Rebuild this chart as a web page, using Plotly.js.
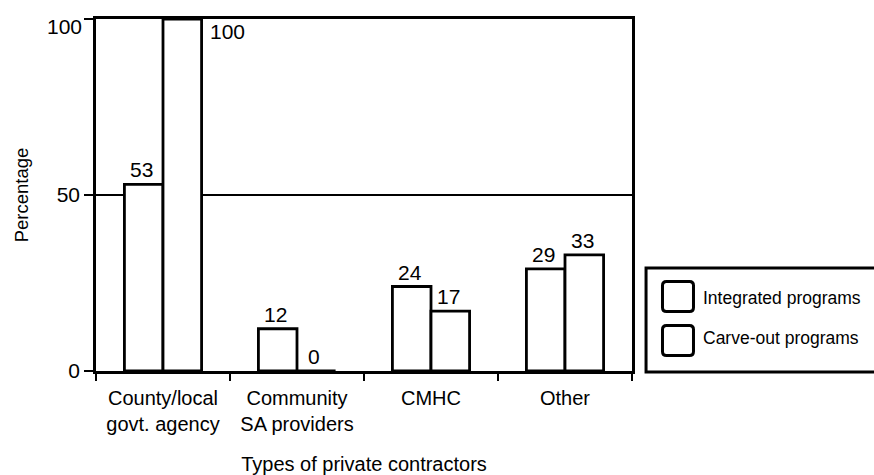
<!DOCTYPE html>
<html>
<head>
<meta charset="utf-8">
<script src="https://cdn.plot.ly/plotly-3.0.1.min.js"></script>
<style>html,body{margin:0;padding:0;background:#fff;}#chart{width:874px;height:475px;}</style>
</head>
<body>
<div id="chart"></div>
<script>
// ---- data ----
var categories = ["County/local<br>govt. agency", "Community<br>SA providers", "CMHC", "Other"];
var seriesNames = ["Integrated programs", "Carve-out programs"];
var integrated = [53, 12, 24, 29];
var carveOut = [100, 0, 17, 33];
var yTickVals = [0, 50, 100];
var yTickText = ["0", "50", "100"];

var FONT = '"Liberation Sans", Arial, Helvetica, sans-serif';
var series = [integrated, carveOut];

var traces = series.map(function (vals, i) {
  return {
    type: 'bar',
    name: seriesNames[i],
    x: categories,
    y: vals,
    marker: {color: '#ffffff', line: {color: '#000000', width: 2.8}},
    showlegend: false,
    hoverinfo: 'x+y+name'
  };
});

// data labels
var annotations = [];
var halfBar = 19.3;
series.forEach(function (vals, i) {
  vals.forEach(function (v, j) {
    var off = (i === 0 ? -halfBar : halfBar);
    if (v >= 95) {
      annotations.push({
        x: categories[j], y: v, xref: 'x', yref: 'y',
        text: String(v), showarrow: false,
        xanchor: 'left', yanchor: 'top',
        xshift: off + halfBar + 6, yshift: 1,
        font: {family: FONT, size: 21, color: '#000'}
      });
    } else {
      annotations.push({
        x: categories[j], y: v, xref: 'x', yref: 'y',
        text: String(v), showarrow: false,
        xanchor: 'center', yanchor: 'bottom',
        xshift: off - 2, yshift: 1,
        font: {family: FONT, size: 21, color: '#000'}
      });
    }
  });
});

// top y tick label sits a little below its tick (drawn from the tick arrays)
var yTickTextShown = yTickText.map(function (t, k) { return k === yTickText.length - 1 ? '' : t; });
annotations.push({
  xref: 'paper', yref: 'y', x: 0, y: yTickVals[yTickVals.length - 1],
  text: yTickText[yTickText.length - 1], showarrow: false,
  xanchor: 'right', yanchor: 'middle', xshift: -12, yshift: -7,
  font: {family: FONT, size: 21, color: '#000'}
});

// legend (drawn)
var legendTextY = [0.2074, 0.0938];
var legendBoxY = [[0.1676, 0.2557], [0.0455, 0.1278]];
var shapes = [{
  type: 'rect', xref: 'paper', yref: 'paper',
  x0: 1.0262, x1: 1.47, y0: -0.003, y1: 0.2926,
  line: {color: '#000', width: 3}, fillcolor: '#fff', layer: 'above'
}];
seriesNames.forEach(function (nm, i) {
  var yc = (legendBoxY[i][0] + legendBoxY[i][1]) / 2;
  var w = 31, h = 30, r = 4;
  shapes.push({
    type: 'path', xref: 'paper', yref: 'paper',
    xsizemode: 'pixel', ysizemode: 'pixel',
    xanchor: 1.0858, yanchor: yc,
    path: 'M ' + (-w/2 + r) + ',' + (-h/2) + ' H ' + (w/2 - r) + ' Q ' + (w/2) + ',' + (-h/2) + ' ' + (w/2) + ',' + (-h/2 + r) +
          ' V ' + (h/2 - r) + ' Q ' + (w/2) + ',' + (h/2) + ' ' + (w/2 - r) + ',' + (h/2) +
          ' H ' + (-w/2 + r) + ' Q ' + (-w/2) + ',' + (h/2) + ' ' + (-w/2) + ',' + (h/2 - r) +
          ' V ' + (-h/2 + r) + ' Q ' + (-w/2) + ',' + (-h/2) + ' ' + (-w/2 + r) + ',' + (-h/2) + ' Z',
    line: {color: '#000', width: 3}, fillcolor: '#fff', layer: 'above'
  });
  annotations.push({
    xref: 'paper', yref: 'paper', x: 1.1287, y: legendTextY[i],
    xanchor: 'left', yanchor: 'middle', showarrow: false,
    text: nm, font: {family: FONT, size: 17.5, color: '#000'}
  });
});

var layout = {
  width: 874, height: 475,
  margin: {l: 96, r: 242, t: 19, b: 104},
  paper_bgcolor: '#fff', plot_bgcolor: '#fff',
  font: {family: FONT, color: '#000', size: 20},
  barmode: 'group', bargap: 0.424, bargroupgap: 0,
  showlegend: false,
  xaxis: {
    type: 'category',
    tickson: 'boundaries',
    ticks: 'outside', ticklen: 7, tickwidth: 2.8, tickcolor: '#000',
    ticklabelstandoff: 7,
    showline: true, linecolor: '#000', linewidth: 2.8, mirror: true,
    showgrid: false,
    tickfont: {family: FONT, size: 20, color: '#000'},
    title: {text: 'Types of private contractors', font: {family: FONT, size: 20, color: '#000'}, standoff: 25},
    automargin: false
  },
  yaxis: {
    range: [0, 100],
    tickvals: yTickVals, ticktext: yTickTextShown,
    ticks: 'outside', ticklen: 9, tickwidth: 2.8, tickcolor: '#000',
    showline: true, linecolor: '#000', linewidth: 2.8, mirror: true,
    showgrid: true, gridcolor: '#000', gridwidth: 2.8,
    zeroline: false,
    tickfont: {family: FONT, size: 21, color: '#000'},
    title: {text: 'Percentage', font: {family: FONT, size: 18.5, color: '#000'}, standoff: 24},
    automargin: false
  },
  annotations: annotations,
  shapes: shapes
};

Plotly.newPlot('chart', traces, layout, {displayModeBar: false, staticPlot: true});
</script>
</body>
</html>
